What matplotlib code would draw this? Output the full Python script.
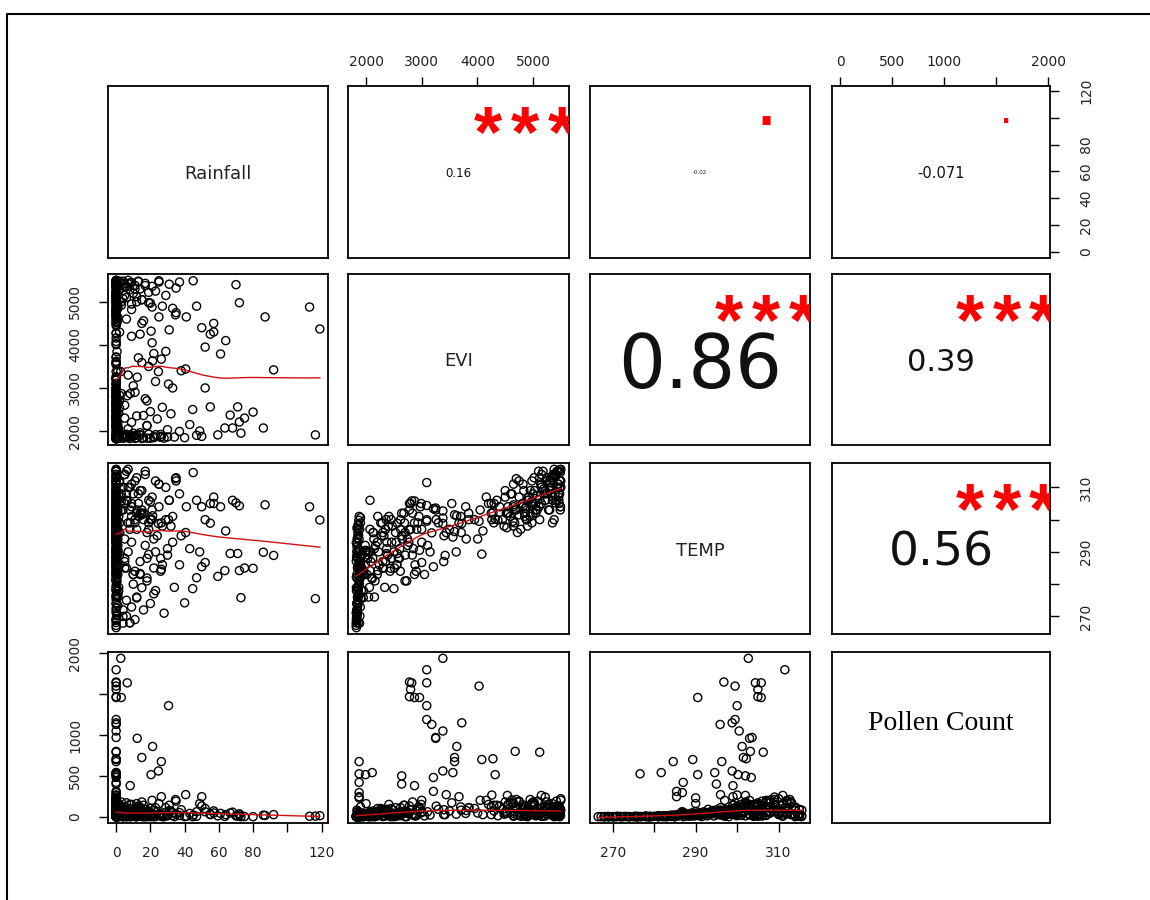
import numpy as np
import matplotlib
matplotlib.use("Agg")
import matplotlib.pyplot as plt
from matplotlib.lines import Line2D
from matplotlib.transforms import offset_copy

plt.rcParams['font.family'] = ['DejaVu Sans']

# ---- observations read off the scatter panels ----
# groups: high pollen | rain~0 | rain 4-60 | rain outliers | dense cores
rainfall = [
    2.7, 0, 0, 6.5, 0, 0, 0, 0, 3, 0, 30.6, 0, 0, 0, 0, 12.3, 0, 21.3, 0, 0,
    15, 0, 0, 26.4, 0, 24.7, 0, 0, 0, 20.4, 0, 0, 0, 0, 0, 8.2, 0, 0, 40.6, 0,
    0, 26.4, 50, 0, 0, 48.8, 3,
    # rain ~0
    0, 0, 0.5, 0, 1, 0, 0, 1.5, 0, 0, 0.5, 0, 0, 2, 0, 0, 1, 0, 0, 0,
    0, 0.5, 0, 0, 1,
    0, 1, 0, 0, 0.5, 0, 0, 0, 2, 0, 0, 1, 0, 0, 0, 0.5, 0, 0, 1.5, 0,
    0, 0, 1, 0, 0,
    0, 0, 1, 0, 0, 0.5, 0, 0, 2, 0,
    0, 0.5, 0, 0, 1, 0, 0, 0, 1.5, 0, 0, 0, 2, 0, 0, 0.5, 0, 0, 0, 1,
    0, 0, 0, 0.5, 0, 0, 1, 0, 0, 0,
    # rain 4-60
    4, 5, 6, 7, 8, 9, 10, 11, 12, 13, 14, 15, 17, 19, 21, 23, 25, 27, 29, 31,
    33, 35, 37, 6, 9,
    4, 5, 6, 7, 8, 9, 10, 12, 14, 16, 18, 20, 22, 24, 26, 28, 30, 32, 34, 37,
    40, 43, 47, 5, 11,
    5, 7, 9, 11, 13, 15, 17, 19, 21, 23, 25, 27, 29, 31, 33, 35, 38, 41, 44.7, 34.7,
    47, 50, 52, 55, 57, 6, 10, 14, 18, 22,
    # outliers
    45, 70, 72, 87, 113, 119, 92, 61, 52, 55, 71, 66.6, 80, 72, 63.5, 68, 72.9, 86, 59.4, 116.4,
    57, 64, 75,
    # dense cores
    0, 0, 0, 0.5, 0, 0, 0, 0, 1, 0, 0, 0, 0, 0, 0.5, 0, 0, 0, 0, 0,
    0, 1, 0, 0, 0, 0, 4, 6, 9, 12, 15, 18, 22, 26, 30, 5, 8, 11, 14, 19,
    0, 0, 0, 1, 0, 0, 0.5, 0, 0, 0, 2, 0, 0, 0, 0, 1.5, 0, 0, 0, 0,
    0, 0, 1, 0, 0, 0, 0, 0.5, 0, 0, 0, 0, 0, 0, 2, 0, 0, 0, 1, 0,
    0, 0, 0, 0, 3, 0, 0, 0, 5, 0, 0, 8, 0, 0, 0, 12, 0, 0, 0, 16,
    0, 0, 2, 0, 0, 20, 0, 0, 1, 0, 0, 0, 0, 0, 0, 0, 4, 0, 0, 0,
    4, 5, 6, 7, 8, 9, 10, 11, 12, 13, 14, 15, 16, 17, 18, 19, 20, 21, 23, 25,
]
evi = [
    3380, 3090, 2780, 2820, 3090, 4030, 2800, 2780, 2870, 2960, 3090, 3090, 3720, 3180, 3380, 3250, 3250, 3630, 4680, 5120,
    3590, 4280, 4080, 1875, 3590, 3380, 3560, 2110, 1875, 4320, 1990, 2640, 3210, 1875, 2640, 2870, 3210, 1875, 3440, 4260,
    4540, 3670, 1875, 1875, 3000, 2000, 5000,
    1825, 1830, 1840, 1822, 1850, 1835, 1860, 1828, 1845, 1870, 1826, 1838, 1855, 1890, 1832, 1848, 1880, 1824, 1842, 1865,
    1836, 1852, 1900, 1829, 1875,
    1950, 2015, 2085, 2160, 2225, 2310, 2375, 2455, 2530, 2605, 2690, 2745, 2835, 2910, 2975, 1985, 2125, 2265, 2410, 2555,
    2705, 2870, 2045, 2335, 2615,
    3105, 3260, 3395, 3540, 3710, 3845, 4005, 4160, 4295, 3620,
    4450, 4550, 4650, 4750, 4850, 4950, 5050, 5150, 5250, 5350, 5450, 5500, 5480, 5420, 5380, 5300, 5220, 5120, 5020, 4920,
    4820, 4720, 4620, 4520, 5400, 5460, 5490, 5350, 5180, 4980,
    5480, 5420, 5350, 5500, 5280, 5450, 5200, 5380, 5120, 5470, 5300, 5050, 5430, 4980, 5360, 5250, 5490, 4900, 5150, 5410,
    4850, 5320, 5460, 5100, 4820,
    1830, 1900, 1850, 2050, 1825, 2200, 1880, 2350, 1960, 1840, 2120, 2450, 1870, 2280, 1920, 1835, 2030, 2400, 1860, 1990,
    1845, 2150, 1900, 2300, 1828,
    2600, 3300, 4200, 2900, 3700, 4500, 2750, 3500, 4050, 3150, 4650, 2550, 3850, 4350, 3000, 4750, 3400, 4650, 2500, 4700,
    4900, 4400, 3950, 4250, 4500, 4600, 3050, 4250, 2700, 3800,
    5490, 5400, 4980, 4650, 4880, 4370, 3420, 3790, 3000, 2560, 2560, 2370, 2440, 2210, 2070, 2070, 1950, 2070, 1910, 1910,
    4300, 4100, 2300,
    1823, 1827, 1831, 1834, 1839, 1843, 1847, 1851, 1856, 1861, 1866, 1872, 1878, 1884, 1893, 1824, 1829, 1833, 1837, 1841,
    1846, 1853, 1858, 1863, 1869, 1876, 1882, 1888, 1896, 1905, 1826, 1834, 1844, 1854, 1864, 1874, 1886, 1898, 1912, 1925,
    1960, 2030, 2100, 2170, 2240, 2320, 2390, 2470, 2540, 2620, 2700, 2780, 2850, 2930, 2990, 2060, 2200, 2350, 2500, 2650,
    2800, 2950, 1990, 2140, 2290, 2430, 2580, 2730, 2880, 2070, 2210, 2370, 2510, 2680, 2830, 2150, 2300, 2460, 2620, 2770,
    4480, 4590, 4700, 4810, 4920, 5030, 5140, 5250, 5360, 5470, 5500, 5440, 5330, 5220, 5110, 5000, 4890, 4780, 4670, 4560,
    5480, 5410, 5300, 5190, 5080, 4970, 4860, 4750, 4640, 4530, 5495, 5465, 5395, 5315, 5235, 5155, 5075, 4995, 4915, 4835,
    1835, 5150, 1925, 5420, 1860, 4950, 1950, 5300, 1845, 5480, 1905, 5050, 2360, 5380, 2130, 5220, 1832, 4880, 1915, 5460,
]
temp = [
    302.7, 311.5, 296.8, 305.8, 304.4, 299.5, 305, 305, 305.8, 290.5, 300, 299.5, 298.8, 295.9, 300.5, 303, 303.6, 301.2, 303.2, 306.3,
    301.5, 302.2, 289.3, 284.6, 296.3, 298.8, 294.6, 281.7, 276.6, 300.2, 290.5, 302, 303.4, 287, 295, 299, 285.4, 286.8, 296, 300,
    302, 299, 285.4, 290, 297, 290, 308,
    266.5, 268.8, 270.2, 271.1, 273.4, 274.0, 276.3, 277.9, 278.6, 280.9, 282.2, 283.1, 285.4, 286.0, 288.3, 289.7, 290.6, 292.8, 294.1, 295.2,
    297.4, 298.1, 300.6, 269.3, 284.5,
    278, 283, 287, 281, 290, 285, 293, 288, 296, 291, 299, 294, 302, 297, 304, 292, 296, 299, 301, 286,
    289, 283, 276, 279, 284,
    292, 300, 287, 305, 296, 302, 294, 307, 299, 290,
    300, 304, 298, 307, 302, 309, 305, 311, 308, 313, 315, 310, 312, 306, 315.6, 303, 309, 300, 313, 306,
    311, 296, 308, 302, 314, 307, 303, 299, 315, 312,
    310, 314, 306, 315.6, 303, 311, 308, 300, 313, 305, 309, 302, 315, 299, 307, 312, 304, 298, 310, 306,
    301, 313, 308, 315, 304,
    270, 285, 275, 290, 268, 293, 280, 297, 283, 272, 288, 300, 277, 295, 284, 271, 289, 298, 279, 286,
    274.2, 291, 282, 287, 269,
    288, 299, 305, 284, 301, 309, 292, 297, 303, 290, 311, 286, 300, 306, 293, 312, 295, 304, 278.6, 312.7,
    306, 304, 300, 305, 307, 308, 283, 302, 281, 294,
    314.6, 305.2, 304.3, 304.6, 304, 299.9, 288.9, 304, 286.7, 298.9, 289.5, 289.5, 284.9, 284.2, 284.2, 306, 275.8, 289.9, 282.4, 275.5,
    305, 296.5, 285,
    267.2, 268.1, 269.0, 270.6, 271.8, 272.5, 273.9, 275.2, 276.8, 278.1, 279.5, 281.4, 282.7, 284.0, 285.8, 287.1, 288.6, 290.1, 291.5, 292.9,
    294.4, 295.8, 297.1, 298.6, 299.8, 301.0, 267.9, 270.1, 272.9, 275.7, 278.9, 281.9, 285.0, 288.0, 291.0, 294.0, 297.0, 299.0, 283.3, 289.2,
    284, 288, 282, 292, 286, 295, 289, 298, 293, 300, 296, 303, 291, 299, 305, 279, 283, 287, 290, 294,
    297, 301, 290, 294, 299, 284, 288, 281, 286, 297, 301, 291, 285, 302, 289, 276, 296, 293, 297, 293,
    298, 301, 303, 305, 307, 309, 311, 313, 314, 315, 312, 310, 308, 306, 304, 302, 300, 297, 299, 302,
    315.5, 313.5, 311.5, 309.5, 307.5, 305.5, 303.5, 301.5, 299.5, 297.5, 304, 306, 308, 310, 312, 314, 303, 305, 307, 309,
    272, 305, 285, 310, 268, 301, 283, 312, 276, 308, 287, 303, 300, 314, 296, 306, 274, 300, 278, 311,
]
pollen = [
    1940, 1800, 1650, 1640, 1640, 1600, 1560, 1470, 1460, 1460, 1360, 1190, 1150, 1130, 1050, 960, 970, 860, 800, 790,
    725, 710, 700, 675, 675, 560, 540, 540, 525, 515, 515, 500, 480, 420, 400, 380, 310, 295, 270, 265,
    260, 245, 245, 230, 200, 160, 180,
    0, 2, 0, 5, 1, 0, 3, 8, 0, 12, 4, 0, 15, 30, 6, 20, 45, 10, 60, 25,
    80, 35, 120, 0, 9,
    0, 3, 40, 2, 65, 15, 90, 30, 110, 50, 140, 60, 180, 75, 95, 35, 70, 100, 150, 20,
    45, 10, 0, 5, 12,
    60, 130, 25, 170, 80, 110, 45, 200, 140, 30,
    90, 150, 40, 180, 120, 210, 70, 260, 110, 160, 30, 220, 85, 190, 10, 130, 240, 55, 175, 100,
    145, 20, 205, 65, 15, 125, 95, 50, 5, 165,
    40, 120, 15, 80, 150, 5, 60, 100, 25, 130, 70, 10, 90, 45, 20, 110, 35, 0, 55, 75,
    15, 30, 50, 85, 10,
    0, 20, 0, 35, 0, 50, 5, 80, 10, 0, 25, 100, 2, 60, 8, 0, 30, 70, 0, 15,
    0, 40, 5, 55, 0,
    30, 90, 150, 10, 120, 180, 40, 70, 200, 20, 160, 15, 110, 140, 50, 190, 85, 5, 0, 210,
    60, 130, 100, 25, 45, 170, 10, 115, 0, 75,
    20, 10, 35, 15, 5, 12, 25, 40, 60, 30, 8, 45, 0, 20, 3, 55, 0, 18, 10, 6,
    70, 25, 2,
    0, 0, 1, 0, 3, 0, 0, 2, 0, 5, 0, 8, 0, 4, 12, 0, 6, 15, 2, 20,
    9, 30, 14, 40, 25, 55, 0, 0, 3, 0, 1, 7, 0, 18, 10, 35, 22, 50, 5, 28,
    5, 20, 0, 45, 15, 60, 30, 85, 40, 110, 70, 130, 25, 95, 150, 0, 10, 35, 20, 55,
    80, 120, 15, 50, 90, 10, 25, 0, 15, 60, 100, 40, 12, 140, 30, 0, 75, 45, 65, 35,
    30, 60, 90, 120, 15, 150, 45, 180, 75, 10, 200, 100, 55, 130, 20, 160, 85, 5, 65, 140,
    0, 35, 110, 70, 190, 25, 95, 50, 170, 40, 15, 80, 125, 60, 35, 100, 20, 145, 55, 90,
    0, 5, 15, 25, 0, 40, 10, 60, 0, 45, 20, 30, 70, 0, 50, 8, 0, 35, 2, 20,
]

var_names = ["Rainfall", "EVI", "TEMP", "Pollen Count"]

# upper panel correlation labels
cor_cells = [(0, 1), (0, 2), (0, 3), (1, 2), (1, 3), (2, 3)]
cor_labels = ["0.16", "-0.02", "-0.071", "0.86", "0.39", "0.56"]
cor_stars = ["***", ".", ".", "***", "***", "***"]

rain_ticks = [0, 20, 40, 60, 80, 100, 120]
rain_tlabels = ["0", "20", "40", "60", "80", "", "120"]
evi_ticks = [2000, 3000, 4000, 5000]
evi_tlabels = ["2000", "3000", "4000", "5000"]
temp_ticks = [270, 280, 290, 300, 310]
temp_tlabels = ["270", "", "290", "", "310"]
pollen_ticks = [0, 500, 1000, 1500, 2000]
pollen_tlabels = ["0", "500", "1000", "", "2000"]


def lowess(x, y, f=2/3, iters=3):
    x = np.asarray(x, float)
    y = np.asarray(y, float)
    order = np.argsort(x, kind="mergesort")
    x, y = x[order], y[order]
    n = len(x)
    r = int(np.ceil(f * n))
    rw = np.ones(n)
    fit = np.zeros(n)
    for it in range(iters + 1):
        for i in range(n):
            d = np.abs(x - x[i])
            h = max(np.sort(d)[r - 1], 1e-12)
            u = np.clip(d / h, 0, 1)
            w = (1 - u ** 3) ** 3 * rw
            w[d > 0.999 * h] = 0
            near = d <= 0.001 * h
            w[near] = rw[near]
            sw = w.sum()
            xm = (w * x).sum() / sw
            ym = (w * y).sum() / sw
            sxx = (w * (x - xm) ** 2).sum()
            if sxx > 1e-9 * (x.max() - x.min()) ** 2:
                b = (w * (x - xm) * (y - ym)).sum() / sxx
                fit[i] = ym + b * (x[i] - xm)
            else:
                fit[i] = ym
        res = y - fit
        s = np.median(np.abs(res))
        if s == 0:
            break
        u = np.clip(res / (6 * s), -1, 1)
        rw = (1 - u ** 2) ** 2
    return x, fit


data = [np.array(rainfall), np.array(evi), np.array(temp), np.array(pollen)]
ticks = [rain_ticks, evi_ticks, temp_ticks, pollen_ticks]
tick_labels = [rain_tlabels, evi_tlabels, temp_tlabels, pollen_tlabels]
lims = []
for v in data:
    rng = v.max() - v.min()
    lims.append((v.min() - 0.04 * rng, v.max() + 0.04 * rng))

W, H = 1150, 900
fig = plt.figure(figsize=(W / 100, H / 100), dpi=100)

col_px = [(108, 328), (348, 569), (590, 810), (832, 1050)]
row_px = [(86, 258), (274, 445), (463, 634), (652, 823)]

pads = {"top": 6, "bottom": 10, "left": 12, "right": 14.5}


def add_axis(ax, side, k):
    if side in ("top", "bottom"):
        ax.set_xticks(ticks[k])
        ax.set_xticklabels(tick_labels[k])
        if side == "top":
            ax.xaxis.tick_top()
        else:
            ax.xaxis.tick_bottom()
        ax.tick_params(axis="x", direction="out", length=6.5, width=1,
                       labelsize=10, pad=pads[side], labelcolor="#222222")
    else:
        ax.set_yticks(ticks[k])
        ax.set_yticklabels(tick_labels[k], rotation=90, va="center")
        if side == "right":
            ax.yaxis.tick_right()
        else:
            ax.yaxis.tick_left()
        ax.tick_params(axis="y", direction="out", length=6.5, width=1,
                       labelsize=10, pad=pads[side], labelcolor="#222222")


cor_sizes = {(0, 1): 8.5, (0, 2): 4, (0, 3): 10.5, (1, 2): 53, (1, 3): 22, (2, 3): 34}
star_size = 52
star_step = 26.5   # points between the three asterisks
dot_sizes = {(0, 2): 60, (0, 3): 32}

for i in range(4):
    for j in range(4):
        x0, x1 = col_px[j]
        y0, y1 = row_px[i]
        ax = fig.add_axes([x0 / W, 1 - y1 / H, (x1 - x0) / W, (y1 - y0) / H])
        ax.set_xticks([])
        ax.set_yticks([])
        for sp in ax.spines.values():
            sp.set_linewidth(1.3)
        ax.set_xlim(lims[j])
        ax.set_ylim(lims[i])

        if i == j:
            if i == 3:
                ax.text(0.5, 0.6, var_names[i], transform=ax.transAxes,
                        ha="center", va="center_baseline", fontsize=20,
                        family=["Liberation Serif", "DejaVu Serif"])
            else:
                ax.text(0.5, 0.5, var_names[i], transform=ax.transAxes,
                        ha="center", va="center_baseline", fontsize=13,
                        color="#222222")
        elif i > j:
            ax.scatter(data[j], data[i], s=34, facecolors="none",
                       edgecolors="black", linewidths=1.0, zorder=2)
            sx, sy = lowess(data[j], data[i])
            ax.plot(sx, sy, color="#d01010", lw=1.0, zorder=3)
        else:
            k = cor_cells.index((i, j))
            ax.text(0.5, 0.5, cor_labels[k], transform=ax.transAxes,
                    ha="center", va="center_baseline",
                    fontsize=cor_sizes[(i, j)], color="#111111")
            st = cor_stars[k]
            if st == "***":
                for dx in (-star_step, 0, star_step):
                    tr = offset_copy(ax.transAxes, fig=fig, x=dx,
                                     y=-0.5 * star_size, units="points")
                    ax.text(0.8, 0.8, "*", transform=tr, ha="center",
                            va="baseline", fontsize=star_size, color="red",
                            fontweight="bold", clip_on=True,
                            family=["Liberation Sans", "DejaVu Sans"])
            else:
                ds = dot_sizes[(i, j)]
                tr = offset_copy(ax.transAxes, fig=fig, y=-0.05 * ds, units="points")
                ax.text(0.8, 0.8, st, transform=tr, ha="center", va="baseline",
                        fontsize=ds, color="red", clip_on=True,
                        family=["Liberation Sans", "DejaVu Sans"])

        # outer axes like pairs()
        if i == 0 and j in (1, 3):
            add_axis(ax, "top", j)
        if i == 3 and j in (0, 2):
            add_axis(ax, "bottom", j)
        if j == 0 and i in (1, 3):
            add_axis(ax, "left", i)
        if j == 3 and i in (0, 2):
            add_axis(ax, "right", i)

# page frame
fig.add_artist(Line2D([7 / W, 7 / W, 1], [0, 1 - 14 / H, 1 - 14 / H],
                      transform=fig.transFigure, color="black", lw=1.5))

fig.savefig("out.png", dpi=100)
